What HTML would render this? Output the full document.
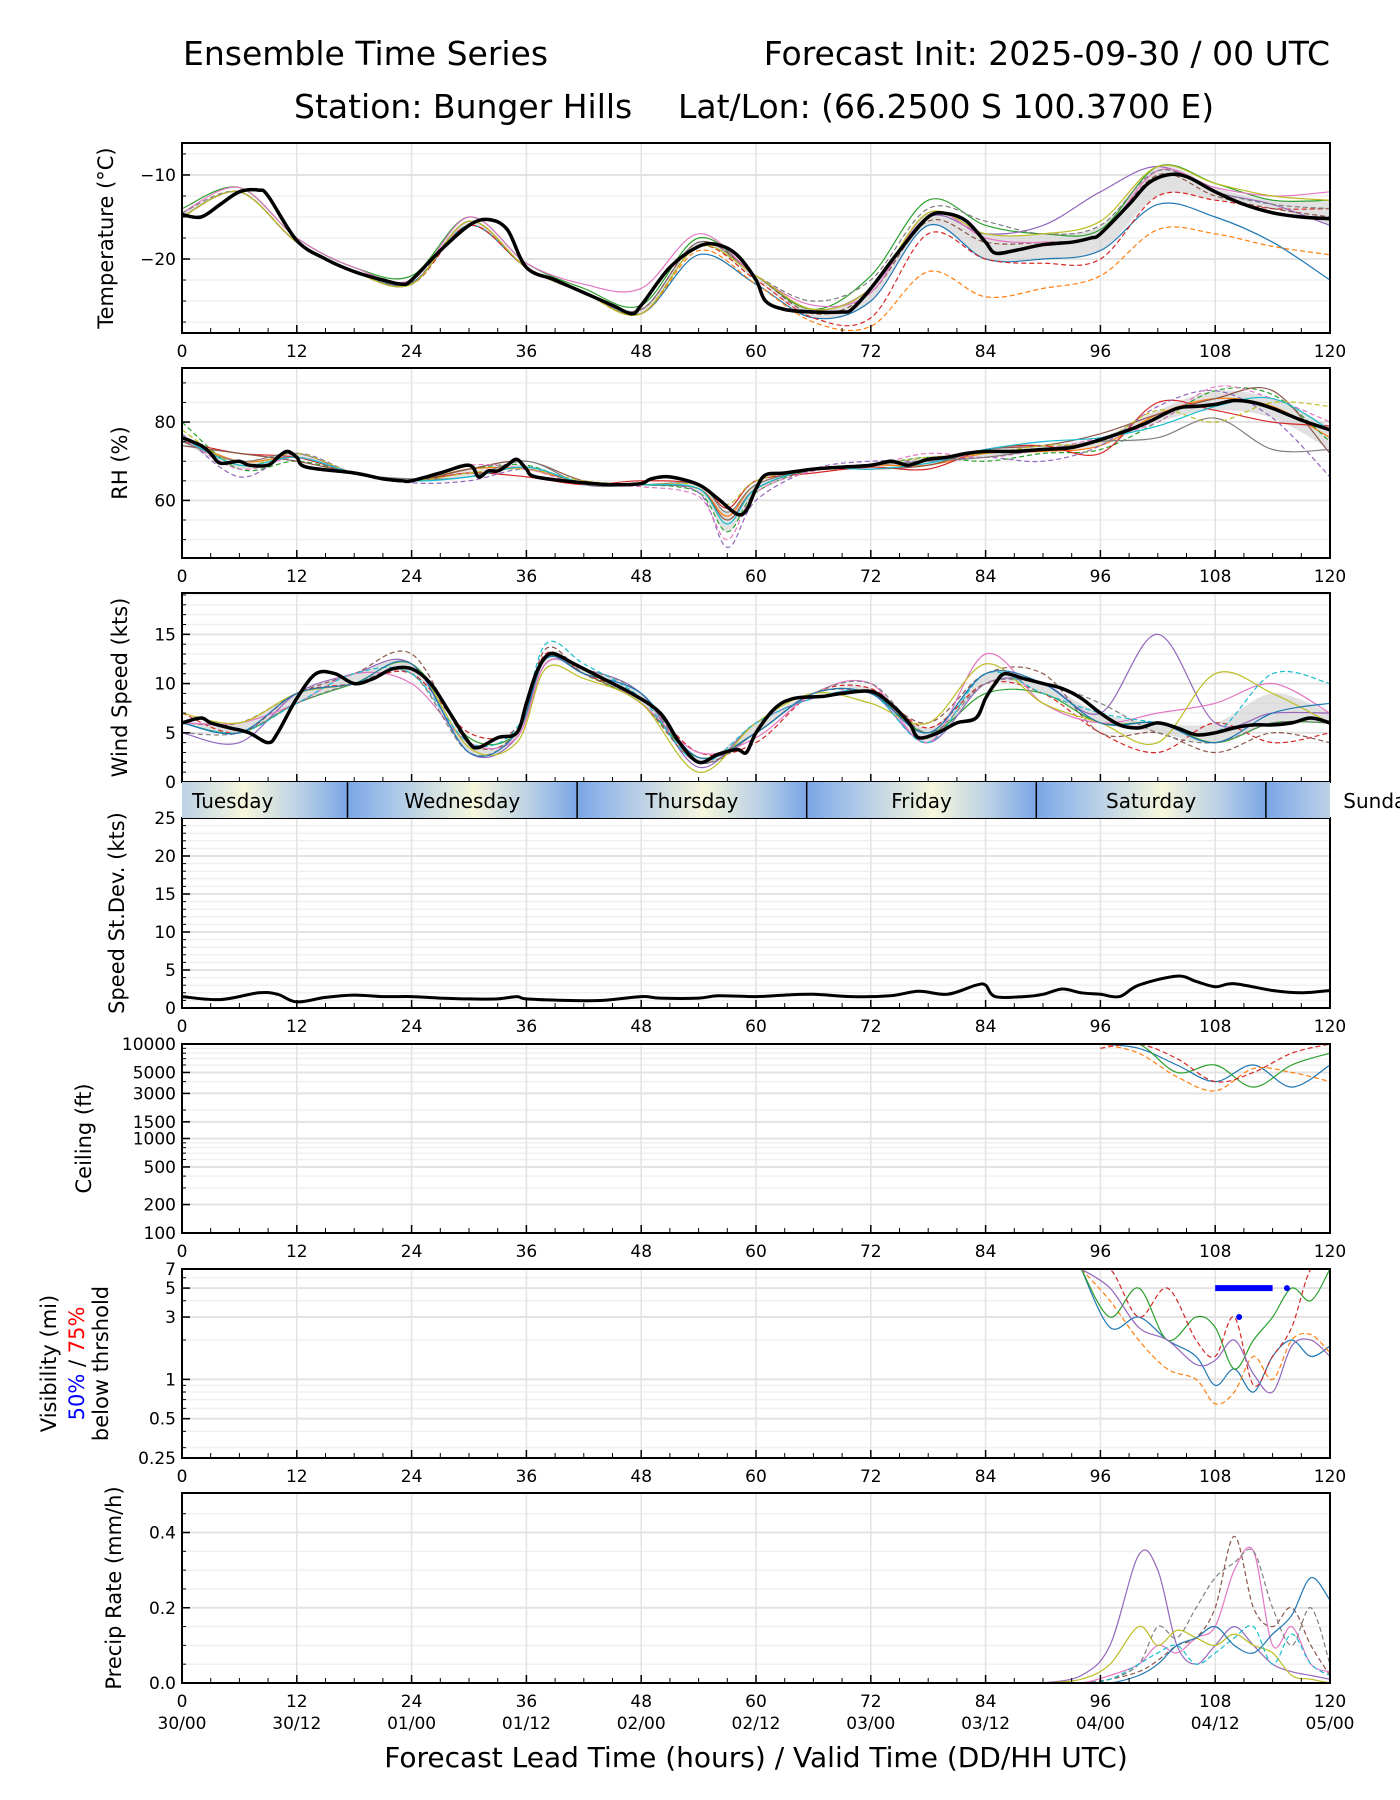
<!DOCTYPE html>
<html><head><meta charset="utf-8">
<style>
html,body{margin:0;padding:0;background:#fff;}
svg{display:block;font-family:"DejaVu Sans","Liberation Sans",sans-serif;}
</style></head>
<body>
<svg id="chart" width="1400" height="1800" viewBox="0 0 1400 1800" xmlns="http://www.w3.org/2000/svg">
<text x="183" y="65" font-size="33">Ensemble Time Series</text>
<text x="1330" y="65" font-size="33" text-anchor="end">Forecast Init: 2025-09-30 / 00 UTC</text>
<text x="294" y="118" font-size="33">Station: Bunger Hills</text>
<text x="678" y="118" font-size="33">Lat/Lon: (66.2500 S 100.3700 E)</text>
<text x="756" y="1767" font-size="28" text-anchor="middle">Forecast Lead Time (hours) / Valid Time (DD/HH UTC)</text>
<g id="root"></g>
</svg>
<script>
// ---- data ----
const meanHours = [0,2,4,6,8,9,12,15,18,21,23,24,27,30,32,34,36,39,42,45,47,48,51,54,56,58,60,61,63,66,69,70,72,75,78,80,82,84,85,87,90,93,95,96,99,101,103,105,108,111,114,117,120];
const tempMean = [-14.7,-15,-13.5,-12,-11.8,-12.5,-17.8,-20,-21.5,-22.5,-23,-22.5,-19,-16,-15.3,-16.5,-21,-22.5,-24,-25.5,-26.5,-25.5,-21,-18.5,-18.3,-19.5,-22.5,-25,-26,-26.3,-26.3,-26,-23.5,-19,-15,-14.6,-15.5,-18,-19.3,-19,-18.3,-18,-17.5,-17,-13.5,-11,-10,-10.2,-12,-13.5,-14.5,-15,-15.2];
const rhHours = [0,2,3,4,6,7,9,10,11,12,13,18,21,23,24,27,30,31,32,33,34,35,36,37,42,45,48,49,51,54,56,58,59,60,61,63,66,69,72,74,75,76,78,80,82,84,87,90,93,96,99,101,104,106,108,110,112,114,117,120];
const rhMean = [76,74,72,69.5,70,69,69,71,72.5,71,68.5,67,65.5,65,65,67,69,66,67.5,67.5,69,70.5,68,66,64.5,64,64.3,65.5,66,64,60.5,56.5,57.5,63,66.5,67,68,68.5,69,70,69.5,69,70.5,71,72,72.5,72.5,73,73.5,75.5,78,80,83.5,84,84.5,85.5,85,83.5,80.5,78];
const windHours = [0,2,3,5,7,9,10,12,14,16,18,20,22,24,26,28,30,31,33,35,36,37,38,39,41,44,47,50,52,54,56,58,59,60,62,64,67,69,72,74,76,77,79,81,83,84,85,86,88,90,92,94,96,98,100,102,104,106,108,110,112,114,116,118,120];
const windMean = [6,6.5,6,5.5,5,4,5,8.5,11,11,10,10.5,11.5,11.5,10,7,4,3.5,4.5,5,8,11,12.7,13,12,10.5,9,7,4,2,2.8,3.3,3,5,7.5,8.5,8.7,9,9.2,8,6,4.5,5,6,6.5,8.5,10,11,10.5,10,9.5,8.5,7,5.8,5.5,6,5.5,4.8,5,5.5,5.8,5.8,6,6.5,6];
const sdHours = [0,4,8,10,12,15,18,21,24,27,30,33,35,36,40,44,48,50,54,56,60,63,66,70,74,77,80,83,84,85,88,90,92,94,96,98,100,104,106,108,110,114,117,120];
const sdMean = [1.5,1.1,2,1.8,0.8,1.4,1.7,1.5,1.5,1.3,1.2,1.2,1.5,1.2,1,1,1.5,1.3,1.3,1.6,1.5,1.7,1.8,1.5,1.6,2.2,1.8,3,3,1.5,1.5,1.8,2.5,2,1.8,1.5,3,4.2,3.5,2.8,3.2,2.3,2,2.3];

const memberHours = [0,6,12,18,24,30,36,42,48,54,60,66,72,78,84,90,96,102,108,114,120];
const tempM1 = [-15,-12,-18,-21.5,-22.8,-16,-21,-24,-26.5,-19.5,-23,-27,-25,-16,-20,-20,-19,-13.5,-15,-18,-22.5];
const tempM2 = [-15,-12,-18,-21.5,-23,-16,-21,-24,-26.5,-19,-23,-27.5,-28,-21.5,-24.5,-23.5,-22,-16.5,-17,-18.5,-19.5];
const tempM3 = [-14,-11.5,-17.5,-21,-22,-15,-20.5,-23.5,-25.5,-17.5,-22,-26,-22,-13,-16,-17,-16.5,-9,-11,-13,-13];
const tempM4 = [-15,-12,-18,-21.5,-23,-16,-21,-24,-26.5,-18.5,-22.5,-27,-27,-17,-20,-20.5,-20,-12.5,-13,-14,-14];
const tempM5 = [-15,-12,-18,-21.5,-23,-15.5,-21,-24,-26,-18,-22,-26,-23.5,-15,-17,-16,-12,-9,-12,-13.5,-16];
const tempM6 = [-15,-12,-18,-21.5,-23,-15.5,-21,-24,-26,-18,-22,-26.5,-24,-15.5,-18,-18,-17,-10,-12.5,-14,-15];
const tempM7 = [-14.5,-11.5,-17.5,-21,-22.5,-15,-20.5,-23,-23.5,-17,-22,-25.5,-24,-14.5,-17.5,-18,-17,-9.5,-11.5,-12.5,-12];
const tempM8 = [-14.5,-12,-18,-21.5,-22.8,-15.5,-21,-24,-26,-18,-22,-25,-22.5,-14,-15.5,-17,-16,-9.5,-12,-13.5,-14];
const tempM9 = [-15,-12,-18,-21.5,-23,-15.5,-21,-24,-26.5,-18.5,-22,-26,-23.5,-14.5,-17,-17,-15.5,-9,-11,-12.5,-13];

const rhMemberHours = [0,6,12,18,24,30,36,42,48,54,57,60,66,72,78,84,90,96,102,108,114,120];
const rhM1 = [76,70,71,67,65,68,68,64.5,64,63,56,64,68,69,69,72,72.5,74,82,86,84,76];
const rhM2 = [80,68,70,67,65,68,69,64,64,62,52,62,68,69,71,70,72,73,80,88,87,75];
const rhM3 = [75,72,71,67,65,67,66,64,65,64,58,65,67,68.5,68,73,74,72,85,83,80,79];
const rhM4 = [77,66,72,67,64.5,65,68,64.5,64,62,48,60,68,70,70,71,70,74,84,88,81,66];
const rhM5 = [74,72,70,67,65,68,70,65,64,63,55,63,68,68,69,73,74,77,82,86,88,72];
const rhM6 = [76,68,71,67,65,69,68,64,63.5,61,50,62,67.5,69,72,71,73,76,80,89,86,80];
const rhM7 = [75,70,72,67,65.5,66,70,64,64,64,57,64,68,69,70,71,73,75,76,81,73,73];
const rhM8 = [78,69,72,67,65,67,68,65,64,64,59,65,68,69,71,72,74,75,83,80,85,84];
const rhM9 = [76,69,71,67,65,66,68.5,64.5,64,63,54,63,68,68,69.5,73,75,76,79,84,86,78];

const windMemberHours = [0,6,12,18,24,30,35,38,42,48,54,60,66,72,78,84,90,96,102,108,114,120];
const windM1 = [6,5,8,10,12,4.5,5,12.5,11,8,2.5,5,9,9,5,9,9,6,6,4,6,6];
const windM2 = [7,5,9,10,11,5,5.5,13,11,8.5,3,4,9,9.5,5.5,10,9,5,3,6,4,5];
const windM3 = [5,4,9,11,12,3,4.5,12,11.5,9,1.5,6,8.5,9,4,10,10,7,15,6,7,7];
const windM4 = [6,6,9,11,13,4,5,13.5,11,8,2,5,9,9,6,11,11,5,5,3,5,4];
const windM5 = [6,6,8,11,10,4,4.5,12,11.5,8,3,4.5,9,10,4,13,8,6,7,8,10,7];
const windM6 = [5,5,8,10,11,3,5,12.5,11.5,9,2,5,9,10,5,10,10,8,5,4,6,6];
const windM7 = [7,6,9,10,12,3.5,4,11.5,10.5,8,1,6,9,8,6,12,8,6,4,11,9,6];
const windM8 = [6,5,8,11,11,4,5.5,14,12,8.5,2,6,8.5,9,4,11,9,7,6,5,11,10];
const windM9 = [6,5,9,10,12,3,5,12.5,11,9,2.5,5,9,9,5,11,10,6,6,4,7,8];

const ceilHours = [96,100,104,108,112,116,120];
const ceilM1 = [10000,9000,6000,4000,6000,3500,6000];
const ceilM2 = [10000,8000,4500,3200,5500,5000,4000];
const ceilM3 = [10000,10000,5000,6000,3500,6000,8000];
const ceilM4 = [9000,10000,7000,4000,5000,8000,10000];

const visHours = [94,97,100,103,106,108,110,112,114,116,118,120];
const visM1 = [7,2.5,3,2,1.5,0.9,1.2,0.8,1.5,2,1.5,1.8];
const visM2 = [7,4,2,1.2,1.0,0.65,0.8,1.5,1,2,2.2,1.6];
const visM3 = [7,3,5,2,3,2.5,1.2,2,3,5,4,7];
const visM4 = [7,7,3,5,2,1.5,3,0.9,1.5,2.5,7,7];
const visM5 = [7,5,2.5,2,1.3,1.4,2,1.1,0.8,1.8,2,1.5];
const visThreshStart = 108, visThreshEnd = 114, visThreshValue = 5;
const visDotHours = [115.5,110.5];
const visDotValues = [5,3];

const precipHours = [90,94,97,100,102,104,106,108,110,112,114,116,118,120];
const precipM1 = [0,0.02,0.1,0.34,0.3,0.1,0.05,0.1,0.15,0.1,0.05,0.03,0.02,0.01];
const precipM2 = [0,0,0.01,0.03,0.06,0.1,0.12,0.2,0.39,0.2,0.15,0.2,0.1,0.02];
const precipM3 = [0,0,0.02,0.05,0.1,0.08,0.12,0.15,0.3,0.35,0.1,0.15,0.05,0.03];
const precipM4 = [0,0,0.01,0.05,0.15,0.12,0.2,0.28,0.32,0.35,0.2,0.1,0.2,0.05];
const precipM5 = [0,0.01,0.05,0.15,0.1,0.14,0.12,0.1,0.13,0.1,0.08,0.02,0.01,0];
const precipM6 = [0,0,0.01,0.05,0.08,0.1,0.05,0.08,0.12,0.15,0.05,0.13,0.05,0.02];
const precipM7 = [0,0,0,0.02,0.05,0.1,0.12,0.15,0.1,0.08,0.13,0.18,0.28,0.22];

const xTicks = [0,12,24,36,48,60,72,84,96,108,120];
const dateLabels = ["30/00","30/12","01/00","01/12","02/00","02/12","03/00","03/12","04/00","04/12","05/00"];
const dayNames = ["Tuesday","Wednesday","Thursday","Friday","Saturday","Sunday"];
const dayStarts = [-6.7,17.3,41.3,65.3,89.3,113.3];

const tab = ["#1f77b4","#ff7f0e","#2ca02c","#d62728","#9467bd","#8c564b","#e377c2","#7f7f7f","#bcbd22","#17becf"];
// ---- layout ----
const NS="http://www.w3.org/2000/svg";
const root=document.getElementById('root');
const X0=182,X1=1330;
const TICKFS=17, TITLEFS=21;
const xs=h=>X0+(h/120)*(X1-X0);
function el(tag,attrs,parent){const e=document.createElementNS(NS,tag);for(const k in attrs)e.setAttribute(k,attrs[k]);(parent||root).appendChild(e);return e;}
function smooth(pts){if(pts.length<2)return"";let d="M"+pts[0][0].toFixed(1)+","+pts[0][1].toFixed(1);for(let i=0;i<pts.length-1;i++){const p0=pts[i-1]||pts[i],p1=pts[i],p2=pts[i+1],p3=pts[i+2]||p2;const c1=[p1[0]+(p2[0]-p0[0])/6,p1[1]+(p2[1]-p0[1])/6],c2=[p2[0]-(p3[0]-p1[0])/6,p2[1]-(p3[1]-p1[1])/6];d+="C"+c1[0].toFixed(1)+","+c1[1].toFixed(1)+" "+c2[0].toFixed(1)+","+c2[1].toFixed(1)+" "+p2[0].toFixed(1)+","+p2[1].toFixed(1);}return d;}

function panel(cfg){
  const g=el('g',{});
  
  
  const T=cfg.top,B=cfg.bottom;
  const ys=cfg.log?(v=>B-(Math.log(v)-Math.log(cfg.min))/(Math.log(cfg.max)-Math.log(cfg.min))*(B-T)):(v=>B-(v-cfg.min)/(cfg.max-cfg.min)*(B-T));
  const cid='clip-'+cfg.name;
  const cp=el('clipPath',{id:cid},g);el('rect',{x:X0,y:T,width:X1-X0,height:B-T},cp);
  (cfg.minor||[]).forEach(v=>{el('line',{x1:X0,x2:X1,y1:ys(v),y2:ys(v),stroke:'#f0f0f0','stroke-width':1.5},g);});
  xTicks.forEach(h=>{const l=el('line',{x1:xs(h),x2:xs(h),y1:T,y2:B,stroke:'#e3e3e3','stroke-width':1.5},g);});
  cfg.yTicks.forEach(v=>{el('line',{x1:X0,x2:X1,y1:ys(v),y2:ys(v),stroke:'#e3e3e3','stroke-width':2},g);});
  const dg=el('g',{'clip-path':'url(#'+cid+')'},g);
  
  
  if(cfg.members){
    if(cfg.band){
      const lo=[],hi=[];
      cfg.memberHours.forEach((h,i)=>{const vals=cfg.members.map(m=>m[i]).sort((a,b)=>a-b);const q1=vals[Math.floor(vals.length*0.25)],q3=vals[Math.ceil(vals.length*0.75)-1];lo.push([xs(h),ys(q1)]);hi.push([xs(h),ys(q3)]);});
      const bd=smooth(hi)+"L"+smooth(lo.slice().reverse()).slice(1);
      const band=el('path',{d:bd,fill:'#c8c8c8','fill-opacity':0.55,stroke:'none'},dg);
      
      
    }
    cfg.members.forEach((m,k)=>{
      const pts=[];cfg.memberHours.forEach((h,i)=>{if(m[i]!=null)pts.push([xs(h),ys(m[i])]);});
      const p=el('path',{d:smooth(pts),fill:'none',stroke:tab[(k+(cfg.colorOffset||0))%10],'stroke-width':1.2,'stroke-dasharray':k%2?'5,3':'none'},dg);
      
      
    });
  }
  if(cfg.mean){
    const pts=cfg.meanHours.map((h,i)=>[xs(h),ys(cfg.mean[i])]);
    const p=el('path',{d:smooth(pts),fill:'none',stroke:'#000','stroke-width':cfg.meanWidth||3.5,'stroke-linejoin':'round'},dg);
    
    
  }
  if(cfg.extra)cfg.extra(dg,ys);
  const fr=el('rect',{x:X0,y:T,width:X1-X0,height:B-T,fill:'none',stroke:'#000','stroke-width':2},g);
  
  
  for(let h=0;h<=120;h+=3){const major=h%12===0;el('line',{x1:xs(h),x2:xs(h),y1:B,y2:B-(major?8:5),stroke:'#000','stroke-width':major?1.5:1},g);}
  if(!cfg.noXLabels){
    xTicks.forEach(h=>{const t=el('text',{x:xs(h),y:B+24,'font-size':TICKFS,'text-anchor':'middle'},g);t.textContent=h;});
  }
  (cfg.minor||[]).forEach(v=>{el('line',{x1:X0,x2:X0+4,y1:ys(v),y2:ys(v),stroke:'#000','stroke-width':1},g);});
  cfg.yTicks.forEach((v,i)=>{el('line',{x1:X0,x2:X0+8,y1:ys(v),y2:ys(v),stroke:'#000','stroke-width':1.5},g);
    const t=el('text',{x:X0-6,y:ys(v)+6,'font-size':TICKFS,'text-anchor':'end'},g);t.textContent=cfg.yLabels?cfg.yLabels[i]:v;});
  const cy=(T+B)/2;
  if(cfg.titleLines){cfg.titleLines.forEach(l=>{const t=el('text',{x:0,y:0,'font-size':TITLEFS,'text-anchor':'middle',transform:'translate('+l.x+','+cy+') rotate(-90)'},g);t.innerHTML=l.html;});}
  else{const t=el('text',{x:0,y:0,'font-size':TITLEFS,'text-anchor':'middle',transform:'translate('+cfg.titleX+','+cy+') rotate(-90)'},g);t.textContent=cfg.title;}
  return ys;
}
function range(a,b,s){const r=[];for(let v=a;v<=b+1e-9;v+=s)r.push(+v.toFixed(3));return r;}

panel({name:'temperature',top:143,bottom:333,min:-28.8,max:-6.2,yTicks:[-10,-20],yLabels:['\u221210','\u221220'],minor:range(-27.5,-7.5,2.5),title:'Temperature (\u00b0C)',titleX:113,band:true,
  meanHours:meanHours,mean:tempMean,memberHours:memberHours,members:[tempM1,tempM2,tempM3,tempM4,tempM5,tempM6,tempM7,tempM8,tempM9]});
panel({name:'rh',top:368,bottom:558,min:45.3,max:93.8,yTicks:[60,80],minor:range(50,90,5),title:'RH (%)',titleX:127,band:true,
  meanHours:rhHours,mean:rhMean,memberHours:rhMemberHours,members:[rhM1,rhM2,rhM3,rhM4,rhM5,rhM6,rhM7,rhM8,rhM9],colorOffset:1});
panel({name:'wind-speed',top:593,bottom:782,min:0,max:19.2,yTicks:[0,5,10,15],minor:range(1,19,1),title:'Wind Speed (kts)',titleX:127,band:true,noXLabels:true,
  meanHours:windHours,mean:windMean,memberHours:windMemberHours,members:[windM1,windM2,windM3,windM4,windM5,windM6,windM7,windM8,windM9],colorOffset:2});
panel({name:'speed-stdev',top:818,bottom:1008,min:0,max:25,yTicks:[0,5,10,15,20,25],minor:range(1,24,1),title:'Speed St.Dev. (kts)',titleX:124,
  meanHours:sdHours,mean:sdMean,meanWidth:3});
panel({name:'ceiling',top:1044,bottom:1233,min:100,max:10000,log:true,yTicks:[100,200,500,1000,1500,3000,5000,10000],minor:[300,400,600,700,800,900,2000,4000,6000,7000,8000,9000],title:'Ceiling (ft)',titleX:91,
  memberHours:ceilHours,members:[ceilM1,ceilM2,ceilM3,ceilM4],colorOffset:0});
panel({name:'visibility',top:1269,bottom:1458,min:0.25,max:7,log:true,yTicks:[0.25,0.5,1,3,5,7],minor:[0.3,0.4,0.6,0.7,0.8,0.9,2,4,6],
  titleLines:[{x:56,html:'Visibility (mi)'},{x:84,html:'<tspan fill="#0000ff">50%</tspan> / <tspan fill="#ff0000">75%</tspan>'},{x:108,html:'below thrshold'}],
  memberHours:visHours,members:[visM1,visM2,visM3,visM4,visM5],colorOffset:0,
  extra:(g,ys)=>{const b=el('line',{x1:xs(visThreshStart),x2:xs(visThreshEnd),y1:ys(visThreshValue),y2:ys(visThreshValue),stroke:'#0000ff','stroke-width':6},g);
    
    visDotHours.forEach((h,i)=>{const c=el('circle',{cx:xs(h),cy:ys(visDotValues[i]),r:3,fill:'#0000ff'},g);});}});
panel({name:'precip',top:1493,bottom:1683,min:0,max:0.505,yTicks:[0,0.2,0.4],yLabels:['0.0','0.2','0.4'],minor:[0.05,0.1,0.15,0.25,0.3,0.35,0.45],title:'Precip Rate (mm/h)',titleX:121,
  memberHours:precipHours,members:[precipM1,precipM2,precipM3,precipM4,precipM5,precipM6,precipM7],colorOffset:4});

xTicks.forEach((h,i)=>{const t=el('text',{x:xs(h),y:1729,'font-size':TICKFS,'text-anchor':'middle'});t.textContent=dateLabels[i];
  
  });

// day band
const defs=el('defs',{});
const grad=el('linearGradient',{id:'dayGrad',x1:0,x2:1,y1:0,y2:0},defs);
[[0,'#7aa6e6'],[0.2,'#aac6e8'],[0.55,'#f7f7dc'],[0.8,'#b8cfe6'],[1,'#7aa6e6']].forEach(s=>el('stop',{offset:s[0],'stop-color':s[1]},grad));
const bandClip=el('clipPath',{id:'bandClip'},defs);el('rect',{x:X0,y:782,width:X1-X0,height:36},bandClip);
const dayG=el('g',{});


const dayInner=el('g',{'clip-path':'url(#bandClip)'},dayG);
dayStarts.forEach((s,i)=>{const r=el('rect',{x:xs(s),y:782,width:xs(s+24)-xs(s),height:36,fill:'url(#dayGrad)'},dayInner);
  
  
  if(i>0){el('line',{x1:xs(s),x2:xs(s),y1:782,y2:818,stroke:'#000','stroke-width':1.5},dayInner);}});
dayStarts.forEach((s,i)=>{const t=el('text',{x:xs(s+12),y:808,'font-size':20,'text-anchor':'middle'},dayG);t.textContent=dayNames[i];
  
  });
</script>
</body></html>
